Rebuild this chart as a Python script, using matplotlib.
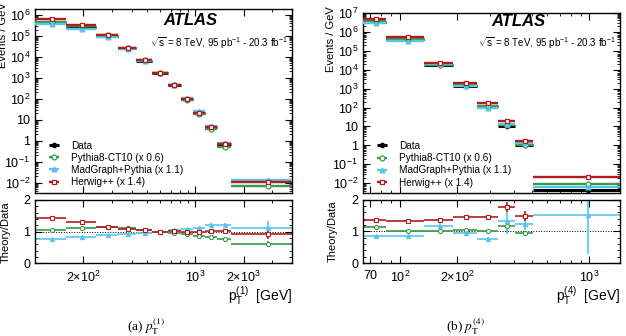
import numpy as np
import matplotlib.pyplot as plt
from matplotlib.ticker import FixedLocator, LogLocator, MultipleLocator, NullFormatter, FuncFormatter

plt.rcParams['font.family'] = ['Liberation Sans', 'DejaVu Sans']
plt.rcParams['mathtext.fontset'] = 'custom'
plt.rcParams['mathtext.rm'] = 'Liberation Sans'
plt.rcParams['mathtext.it'] = 'Liberation Sans:italic'
plt.rcParams['mathtext.bf'] = 'Liberation Sans:bold'

# (a) leading jet pT
edges1 = [100, 155, 240, 330, 425, 540, 670, 810, 970, 1140, 1370, 1670, 4000]
data1 = [4.6e5, 2.6e5, 9.3e4, 2.5e4, 6.5e3, 1.7e3, 450, 100, 22, 4.3, 0.66, 0.012]
py1 = [1.04, 1.13, 1.14, 1.10, 1.04, 0.99, 0.96, 0.91, 0.85, 0.84, 0.76, 0.60]
py1_err = [0.01, 0.01, 0.01, 0.01, 0.01, 0.01, 0.01, 0.01, 0.01, 0.02, 0.02, 0.10]
mg1 = [0.77, 0.84, 0.90, 0.92, 0.97, 1.00, 1.04, 1.08, 1.12, 1.22, 1.22, 1.13]
mg1_err = [0.01, 0.01, 0.01, 0.01, 0.01, 0.01, 0.01, 0.02, 0.02, 0.04, 0.06, 0.22]
hw1 = [1.42, 1.31, 1.16, 1.08, 1.04, 0.99, 1.01, 0.99, 0.98, 1.03, 1.01, 0.93]
hw1_err = [0.01, 0.01, 0.01, 0.01, 0.01, 0.01, 0.01, 0.01, 0.02, 0.02, 0.03, 0.16]

# (b) fourth jet pT
edges4 = [64, 85, 135, 190, 255, 330, 405, 505, 1450]
data4 = [3.4e6, 4.0e5, 1.75e4, 1.4e3, 125, 10.5, 1.1, 0.0042]
py4 = [1.13, 1.02, 1.01, 1.05, 1.00, 1.16, 0.95, 2.2]
py4_err = [0.01, 0.01, 0.01, 0.01, 0.01, 0.20, 0.05, 0.0]
mg4 = [0.84, 0.84, 1.18, 0.95, 0.76, 1.32, 1.24, 1.52]
mg4_err = [0.01, 0.01, 0.10, 0.03, 0.05, 0.40, 0.20, 1.25]
hw4 = [1.35, 1.32, 1.35, 1.44, 1.45, 1.77, 1.48, 5.2]
hw4_err = [0.01, 0.01, 0.01, 0.02, 0.03, 0.16, 0.16, 0.0]

labels = ['Data', 'Pythia8-CT10 (x 0.6)', 'MadGraph+Pythia (x 1.1)', 'Herwig++ (x 1.4)']
c_py, c_mg, c_hw = '#3a9a4a', '#55c6ef', '#b01c1c'


def log_fmt(v, pos):
    e = int(round(np.log10(v)))
    if e == 0:
        return '1'
    if e == 1:
        return '10'
    return '$10^{%d}$' % e


def style(ax):
    ax.tick_params(which='both', direction='in', top=True, right=True, labelsize=9)
    ax.tick_params(which='major', length=5, width=0.8)
    ax.tick_params(which='minor', length=2.5, width=0.6)
    for s in ax.spines.values():
        s.set_linewidth(1.0)


def panel(axm, axr, edges, data, py, py_err, mg, mg_err, hw, hw_err, xticks, xticklabels, ylim):
    edges = np.array(edges, float)
    lo, hi = edges[:-1], edges[1:]
    c = (lo + hi) / 2
    xe = [c - lo, hi - c]
    data = np.array(data)
    h = []
    h.append(axm.errorbar(c, data, xerr=xe, fmt='o', color='k', ms=3, lw=2.2, capsize=0, zorder=3))
    for r, col, mk, mfc in [(py, c_py, 'o', 'white'), (mg, c_mg, '^', c_mg), (hw, c_hw, 's', 'white')]:
        h.append(axm.errorbar(c, data * np.array(r), xerr=xe, fmt=mk, color=col, mfc=mfc, mec=col,
                              ms=3.5, mew=0.9, lw=1.7, capsize=0, zorder=4))
    for r, re, col, mk, mfc in [(py, py_err, c_py, 'o', 'white'), (mg, mg_err, c_mg, '^', c_mg),
                                (hw, hw_err, c_hw, 's', 'white')]:
        axr.errorbar(c, r, xerr=xe, yerr=re, fmt=mk, color=col, mfc=mfc, mec=col,
                     ms=3, mew=0.8, lw=1.2, capsize=0)
    axr.axhline(1, color='k', ls=':', lw=0.7, zorder=0)

    for ax in (axm, axr):
        ax.set_xscale('log')
        ax.set_xlim(edges[0], edges[-1])
        ax.xaxis.set_major_locator(FixedLocator(xticks))
        ax.xaxis.set_minor_locator(LogLocator(base=10, subs=np.arange(1, 10), numticks=30))
        ax.xaxis.set_minor_formatter(NullFormatter())
        style(ax)
    axm.xaxis.set_major_formatter(NullFormatter())
    axr.set_xticklabels(xticklabels)
    axr.tick_params(axis='x', pad=5)

    axm.set_yscale('log')
    axm.set_ylim(*ylim)
    axm.yaxis.set_major_locator(LogLocator(base=10, numticks=20))
    axm.yaxis.set_minor_locator(LogLocator(base=10, subs=np.arange(2, 10), numticks=20))
    axm.yaxis.set_major_formatter(FuncFormatter(log_fmt))
    axm.yaxis.set_minor_formatter(NullFormatter())

    axr.set_ylim(0, 2)
    axr.yaxis.set_major_locator(FixedLocator([0, 1, 2]))
    axr.yaxis.set_minor_locator(MultipleLocator(0.2))
    axr.set_yticklabels(['0', '1', '2'])

    axm.legend(h, labels, loc='lower left', bbox_to_anchor=(0.025, 0.03), frameon=False, fontsize=7.2,
               handlelength=2.5, labelspacing=0.22, handletextpad=0.45, borderpad=0, borderaxespad=0)
    return c


fig = plt.figure(figsize=(6.26, 3.36), dpi=100)
W, H = 626, 336


def rect(x0, y0, x1, y1):
    return [x0 / W, 1 - y1 / H, (x1 - x0) / W, (y1 - y0) / H]


axm1 = fig.add_axes(rect(35, 9, 292, 192.7))
axr1 = fig.add_axes(rect(35, 200, 292, 263.3))
axm2 = fig.add_axes(rect(363, 12.7, 620, 193))
axr2 = fig.add_axes(rect(363, 199.5, 620, 263))

panel(axm1, axr1, edges1, data1, py1, py1_err, mg1, mg1_err, hw1, hw1_err,
      [200, 1000, 2000], [r'$2{\times}10^{2}$', r'$10^{3}$', r'$2{\times}10^{3}$'], (3.3e-3, 1.9e6))
panel(axm2, axr2, edges4, data4, py4, py4_err, mg4, mg4_err, hw4, hw4_err,
      [70, 100, 200, 1000], ['70', r'$10^{2}$', r'$2{\times}10^{2}$', r'$10^{3}$'], (3.1e-3, 1e7))

for axm, axr, xl, cap, xcap, ay in [(axm1, axr1, r'$\mathrm{p}_{\mathrm{T}}^{(1)}$  [GeV]', r'(a) $p_{\rm T}^{(1)}$', 146, 0.935),
                                    (axm2, axr2, r'$\mathrm{p}_{\mathrm{T}}^{(4)}$  [GeV]', r'(b) $p_{\rm T}^{(4)}$', 465, 0.95)]:
    axm.text(0.5, ay, 'ATLAS', transform=axm.transAxes, fontsize=12, fontweight='bold', style='italic',
             va='center', ha='left')
    axm.text(0.985, ay - 0.12, r'$\sqrt{\mathrm{s}}$ = 8 TeV, 95 pb$^{-1}$ - 20.3 fb$^{-1}$',
             transform=axm.transAxes, fontsize=7, va='center', ha='right')
    axr.text(1.0, -0.52, xl, transform=axr.transAxes, fontsize=10, ha='right', va='center')
    fig.text(xcap / W, 1 - 327 / H, cap, fontsize=9.5, ha='center', va='center',
             family='Liberation Serif', math_fontfamily='stix')

fig.text(3.5 / W, 1 - 2 / H, 'Events / GeV', rotation=90, fontsize=8, ha='center', va='top')
fig.text(331 / W, 1 - 6 / H, 'Events / GeV', rotation=90, fontsize=8, ha='center', va='top')
fig.text(6 / W, 1 - 231.7 / H, 'Theory/Data', rotation=90, fontsize=8, ha='center', va='center')
fig.text(333 / W, 1 - 231 / H, 'Theory/Data', rotation=90, fontsize=8, ha='center', va='center')

fig.savefig('out.png', dpi=100)
